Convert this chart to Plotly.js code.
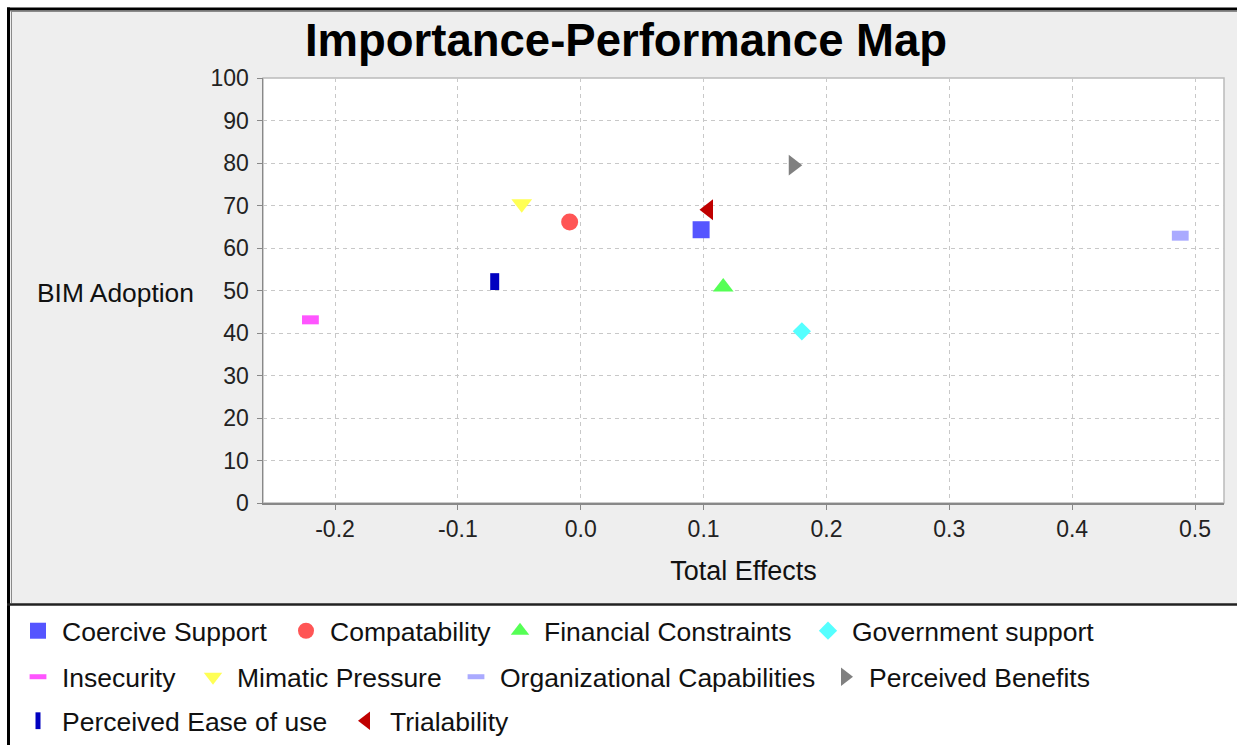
<!DOCTYPE html>
<html>
<head>
<meta charset="utf-8">
<script src="https://cdn.plot.ly/plotly-3.0.1.min.js"></script>
<style>
html,body{margin:0;padding:0;background:#fff;}
#chart{width:1237px;height:745px;}
</style>
</head>
<body>
<div id="chart"></div>
<script>
// ---- data ----
const names = ["Coercive Support","Compatability","Financial Constraints","Government support",
               "Insecurity","Mimatic Pressure","Organizational Capabilities","Perceived Benefits",
               "Perceived Ease of use","Trialability"];
const totalEffects = [0.098, -0.009, 0.116, 0.180, -0.220, -0.048, 0.488, 0.173, -0.070, 0.104];
const performance  = [64.3, 66.1, 50.8, 40.4, 43.1, 70.4, 62.9, 79.5, 52.1, 69.0];
const xTickVals = [-0.2,-0.1,0.0,0.1,0.2,0.3,0.4,0.5];
const xTickText = ["-0.2","-0.1","0.0","0.1","0.2","0.3","0.4","0.5"];
const yTickVals = [0,10,20,30,40,50,60,70,80,90,100];

// ---- styles ----
const colors  = ["#5555FF","#FF5555","#55FF55","#55FFFF","#FF55FF","#FFFF55","#AAAAFF","#808080","#0000C0","#C00000"];
const symbols = ["square","circle","triangle-up","diamond","line-ew","triangle-down","line-ew","triangle-right","line-ns","triangle-left"];
const sizes   = [17,17,18,14,12,18,12,18,12,18];
const lineW   = [0,0,0,0,9,0,10,0,9,0];
// legend entry placement (pixel position of each entry's symbol, flow layout as in the reference)
const legendPosX = [38,306,520,828, 38,213,476,845, 38,366];
const legendPosY = [631,631,631,631, 677,677,677,677, 721,721];

const W = 1237, H = 745;
const M = {l:263, r:13, t:78, b:242};
const PW = W - M.l - M.r, PH = H - M.t - M.b;
const px2x = p => (p - M.l) / PW;
const px2y = p => (H - M.b - p) / PH;

const font = "Liberation Sans, Arial, sans-serif";
const legendKey = i => (i === 0 ? "legend" : "legend" + (i + 1));

const traces = names.map((n,i) => ({
  type: "scatter", mode: "markers", name: n, legend: legendKey(i),
  x: [totalEffects[i]], y: [performance[i]],
  marker: {symbol: symbols[i], size: sizes[i], color: colors[i],
           line: {color: colors[i], width: lineW[i]}},
  hoverinfo: "name+x+y"
}));

const shapes = [
  {type:"rect", xref:"paper", yref:"paper", layer:"below",
   x0:px2x(9), x1:px2x(W+5), y0:px2y(604), y1:px2y(9),
   fillcolor:"#EEEEEE", line:{width:0}},
  {type:"rect", xref:"paper", yref:"paper", layer:"below",
   x0:0, x1:1, y0:0, y1:1, fillcolor:"#FFFFFF", line:{color:"#BBBBBB", width:1.5}},
  {type:"line", xref:"paper", yref:"paper", layer:"below",
   x0:px2x(10.5), x1:px2x(W+5), y0:px2y(11.5), y1:px2y(11.5), line:{color:"#8a8a8a", width:1}},
  {type:"line", xref:"paper", yref:"paper", layer:"below",
   x0:px2x(11.5), x1:px2x(11.5), y0:px2y(11), y1:px2y(603), line:{color:"#8a8a8a", width:1}},
  {type:"line", xref:"paper", yref:"paper", layer:"above",
   x0:px2x(7), x1:px2x(W+5), y0:px2y(9), y1:px2y(9), line:{color:"#000", width:3}},
  {type:"line", xref:"paper", yref:"paper", layer:"above",
   x0:px2x(8.5), x1:px2x(8.5), y0:px2y(7.5), y1:px2y(H+5), line:{color:"#000", width:3}},
  {type:"line", xref:"paper", yref:"paper", layer:"above",
   x0:px2x(7), x1:px2x(W+5), y0:px2y(604.5), y1:px2y(604.5), line:{color:"#222", width:2.5}}
];

const legendBase = (xpx, ypx) => ({
  orientation: "h", xref: "paper", yref: "paper", x: px2x(xpx - 24), xanchor: "left",
  y: px2y(ypx), yanchor: "middle", bgcolor: "rgba(0,0,0,0)",
  font: {size: 26.5, color: "#111"}, itemwidth: 38, traceorder: "normal"
});

const layout = {
  width: W, height: H,
  margin: {l:M.l, r:M.r, t:M.t, b:M.b, autoexpand:false},
  paper_bgcolor: "#FFFFFF", plot_bgcolor: "#FFFFFF",
  font: {family: font, color: "#000"},
  title: {text: "Importance-Performance Map", font: {family: font, size: 45.5, weight: "bold", color:"#000"},
          x: 626/W, xref: "container", xanchor: "center", y: 1 - 40/H, yref: "container", yanchor: "middle"},
  xaxis: {range: [-0.2586, 0.5236], tickvals: xTickVals, ticktext: xTickText,
          showgrid: true, gridcolor: "#C8C8C8", griddash: "4px,4px", gridwidth: 1,
          zeroline: false, showline: true, linecolor: "#888888", linewidth: 1.5,
          ticks: "outside", ticklen: 5, tickcolor: "#888888", tickfont: {size: 23, color:"#222"},
          title: {text: "Total Effects", font: {size: 27, color:"#111"}, standoff: 20},
          fixedrange: true},
  yaxis: {range: [0, 100], tickvals: yTickVals,
          showgrid: true, gridcolor: "#C8C8C8", griddash: "4px,4px", gridwidth: 1,
          zeroline: false, showline: true, linecolor: "#888888", linewidth: 1.5,
          ticks: "outside", ticklen: 5, tickcolor: "#888888", tickfont: {size: 23, color:"#222"},
          ticklabelstandoff: 3, title: {text: ""}, fixedrange: true},
  annotations: [{text: "BIM Adoption", xref: "paper", yref: "paper", x: px2x(115.5), y: px2y(293),
                 xanchor: "center", yanchor: "middle", showarrow: false, font: {size: 26.4, color:"#111"}}],
  shapes: shapes,
  showlegend: true
};
names.forEach((n,i) => { layout[legendKey(i)] = legendBase(legendPosX[i], legendPosY[i]); });

Plotly.newPlot("chart", traces, layout, {displayModeBar: false, staticPlot: true});
</script>
</body>
</html>
